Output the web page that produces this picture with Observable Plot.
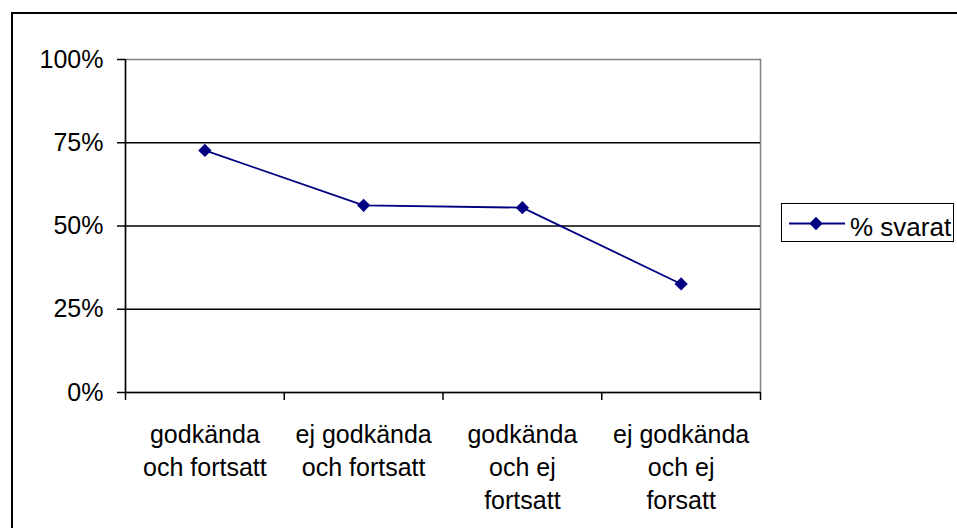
<!DOCTYPE html>
<html><head><meta charset="utf-8">
<script src="https://cdn.jsdelivr.net/npm/d3@7"></script>
<script src="https://cdn.jsdelivr.net/npm/@observablehq/plot@0.6"></script>
<style>
body{margin:0;background:#fff;font-family:Arial,"Liberation Sans",sans-serif;}
#wrap{position:relative;width:957px;height:528px;overflow:hidden;}
#wrap svg.chart{position:absolute;left:0;top:0;}
#border{position:absolute;left:11px;top:12px;width:2000px;height:2000px;border:2px solid #000;box-sizing:border-box;}
#legend{position:absolute;left:781px;top:203px;width:173px;height:39px;border:1.5px solid #000;box-sizing:border-box;background:#fff;overflow:visible;}
#legend svg{position:absolute;left:0;top:0;overflow:visible;}
</style></head><body><div id="wrap"><div id="border"></div></div>
<script>
const categories = ["godkända\noch fortsatt", "ej godkända\noch fortsatt", "godkända\noch ej\nfortsatt", "ej godkända\noch ej\nforsatt"];
const values = [72.7, 56.2, 55.5, 32.6];
const yTicks = [0, 25, 50, 75, 100];
const seriesName = "% svarat";
const seriesColor = "#000080";

const data = categories.map((c, i) => ({c, i: i + 0.5, v: values[i]}));
const xBounds = d3.range(categories.length + 1);
const font = "Arial, 'Liberation Sans', sans-serif";

const chart = Plot.plot({
  width: 957, height: 528,
  marginLeft: 125, marginRight: 197, marginTop: 59, marginBottom: 136,
  style: {fontFamily: font, fontSize: "25px", color: "#000", background: "transparent", overflow: "visible"},
  x: {domain: [0, categories.length], axis: null, label: null},
  y: {domain: [0, 100], axis: null, label: null},
  marks: [
    Plot.frame({stroke: "#808080", strokeWidth: 1.5}),
    Plot.ruleY(yTicks.filter(t => t > 0 && t < 100), {stroke: "#000", strokeWidth: 1.4}),
    Plot.axisY({ticks: yTicks, tickSize: 8, tickPadding: 14, tickFormat: d => d + "%", fontSize: 25, strokeWidth: 1.5, label: null}),
    Plot.axisX({ticks: xBounds, tickSize: 8, tickFormat: () => "", strokeWidth: 1.5, label: null}),
    Plot.ruleX([0], {stroke: "#000", strokeWidth: 1.5}),
    Plot.ruleY([0], {stroke: "#000", strokeWidth: 1.5}),
    Plot.line(data, {x: "i", y: "v", stroke: seriesColor, strokeWidth: 1.8}),
    Plot.dot(data, {x: "i", y: "v", symbol: "diamond2", r: 6, fill: seriesColor, stroke: "none"}),
    Plot.text(data, {x: "i", text: "c", frameAnchor: "bottom", lineAnchor: "top", dy: 27, lineHeight: 1.32, fontSize: 25, fill: "#000"})
  ]
});
chart.classList.add("chart");
document.getElementById("wrap").appendChild(chart);

// legend
const legend = document.createElement("div");
legend.id = "legend";
const ls = d3.create("svg").attr("width", 173).attr("height", 39);
ls.append("line").attr("x1", 7).attr("x2", 63).attr("y1", 19.5).attr("y2", 19.5).attr("stroke", seriesColor).attr("stroke-width", 1.8);
ls.append("path").attr("transform", "translate(34,19.5)").attr("d", d3.symbol(d3.symbolDiamond2, Math.PI * 36)()).attr("fill", seriesColor);
ls.append("text").attr("x", 68).attr("y", 32).attr("font-family", font).attr("font-size", 26).attr("fill", "#000").text(seriesName);
legend.appendChild(ls.node());
document.getElementById("wrap").appendChild(legend);
</script>
</body></html>
